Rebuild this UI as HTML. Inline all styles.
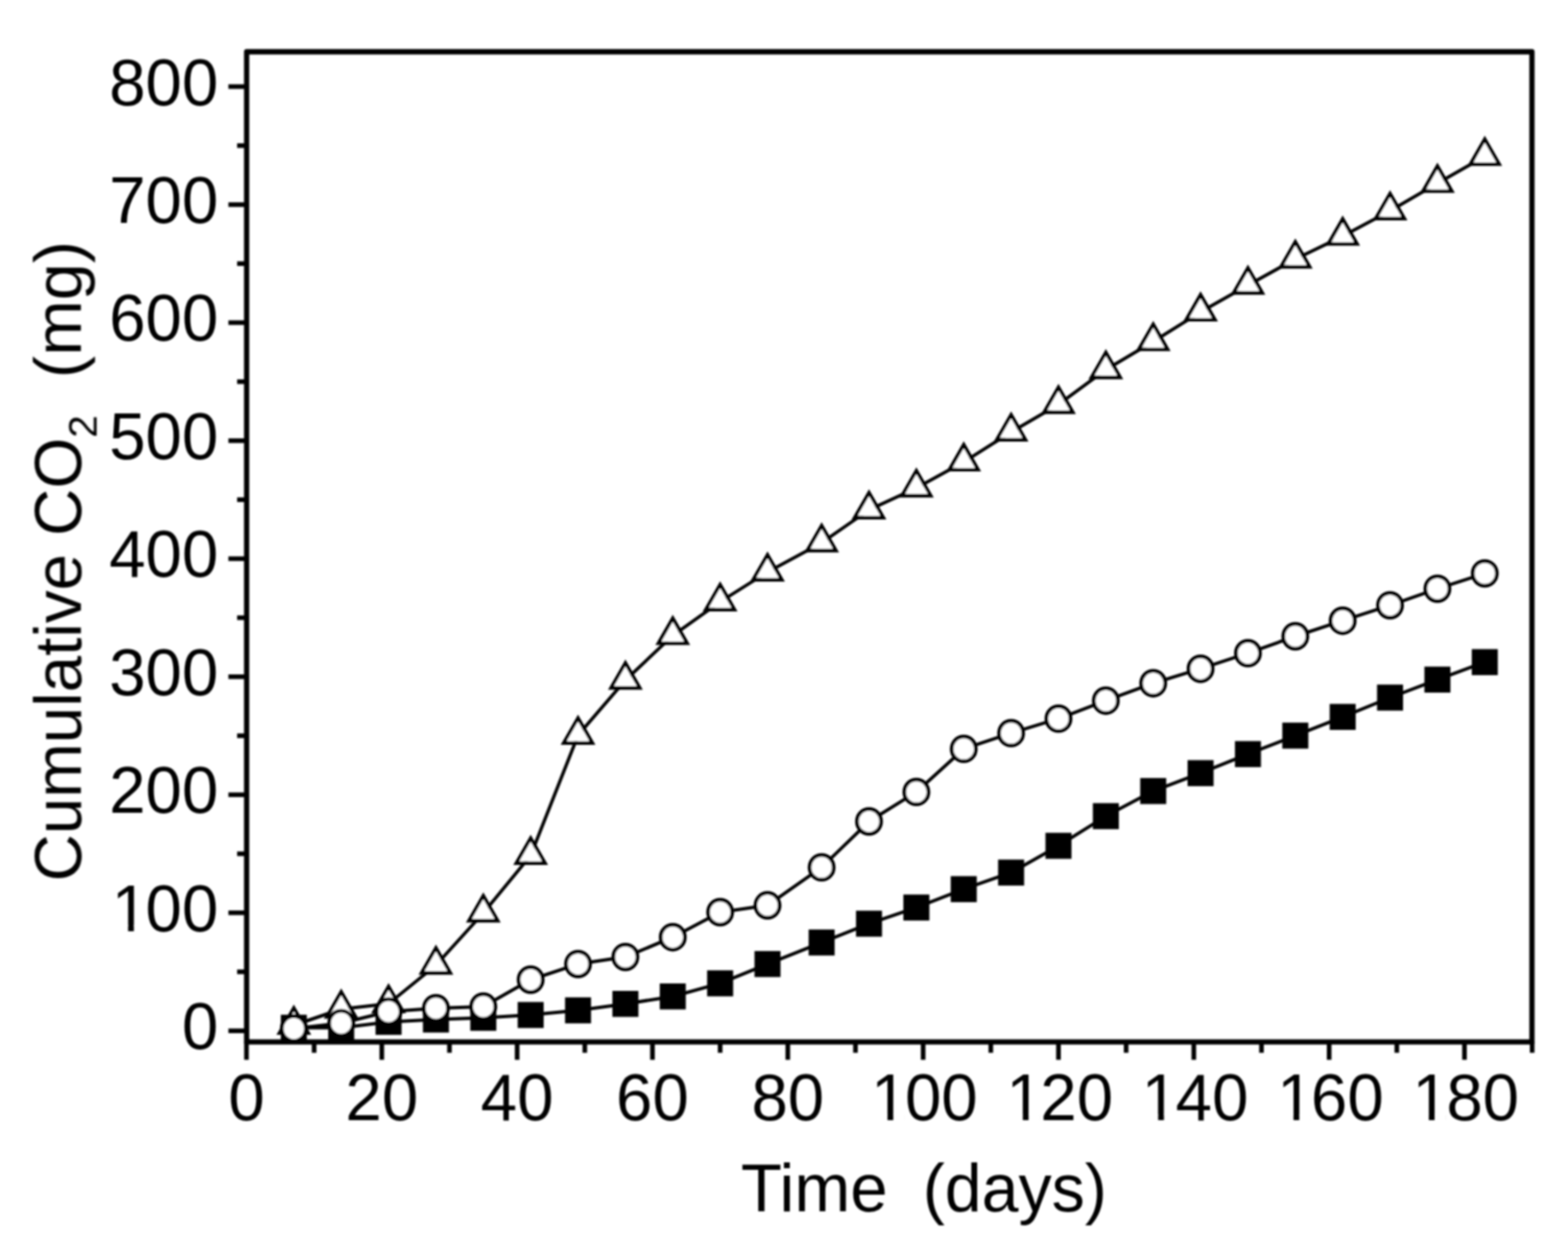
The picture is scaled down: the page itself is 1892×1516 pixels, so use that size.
<!DOCTYPE html><html><head><meta charset="utf-8"><title>Cumulative CO2</title><style>html,body{margin:0;padding:0;background:#fff;}svg{display:block;}text{font-family:"Liberation Sans",Arial,sans-serif;fill:#000;}</style></head><body>
<svg width="1892" height="1516" viewBox="0 0 1892 1516">
<rect width="1892" height="1516" fill="#fff"/>
<filter id="bl" x="0" y="0" width="1892" height="1516" filterUnits="userSpaceOnUse"><feGaussianBlur stdDeviation="0.8"/></filter><g filter="url(#bl)">
<polyline fill="none" stroke="#000" stroke-width="4" stroke-linejoin="round" points="354.55,1237.5 411.71,1218 468.86,1211.5 526.02,1165 583.17,1102 640.33,1032.5 697.48,887.4 754.64,821 811.79,767.1 868.95,726.4 926.1,690.4 991.42,655.2 1048.58,615.4 1105.73,589 1162.89,557.6 1220.04,521.5 1277.2,488.2 1334.36,446.2 1391.51,412.3 1448.66,376.6 1505.82,344.2 1562.97,312.7 1620.13,285.1 1677.28,254.5 1734.44,221.3 1791.59,188.8"/>
<path d="M354.55,1212.5 375.55,1249 333.55,1249Z M354.55,1221.32 367.95,1244.6 341.16,1244.6Z" fill="#000" fill-rule="evenodd"/><polygon points="354.55,1221.32 367.95,1244.6 341.16,1244.6" fill="#fff"/>
<path d="M411.71,1193 432.71,1229.5 390.71,1229.5Z M411.71,1201.82 425.1,1225.1 398.32,1225.1Z" fill="#000" fill-rule="evenodd"/><polygon points="411.71,1201.82 425.1,1225.1 398.32,1225.1" fill="#fff"/>
<path d="M468.86,1186.5 489.86,1223 447.86,1223Z M468.86,1195.32 482.26,1218.6 455.47,1218.6Z" fill="#000" fill-rule="evenodd"/><polygon points="468.86,1195.32 482.26,1218.6 455.47,1218.6" fill="#fff"/>
<path d="M526.02,1140 547.02,1176.5 505.02,1176.5Z M526.02,1148.82 539.41,1172.1 512.63,1172.1Z" fill="#000" fill-rule="evenodd"/><polygon points="526.02,1148.82 539.41,1172.1 512.63,1172.1" fill="#fff"/>
<path d="M583.17,1077 604.17,1113.5 562.17,1113.5Z M583.17,1085.82 596.57,1109.1 569.78,1109.1Z" fill="#000" fill-rule="evenodd"/><polygon points="583.17,1085.82 596.57,1109.1 569.78,1109.1" fill="#fff"/>
<path d="M640.33,1007.5 661.33,1044 619.33,1044Z M640.33,1016.32 653.72,1039.6 626.94,1039.6Z" fill="#000" fill-rule="evenodd"/><polygon points="640.33,1016.32 653.72,1039.6 626.94,1039.6" fill="#fff"/>
<path d="M697.48,862.4 718.48,898.9 676.48,898.9Z M697.48,871.22 710.88,894.5 684.09,894.5Z" fill="#000" fill-rule="evenodd"/><polygon points="697.48,871.22 710.88,894.5 684.09,894.5" fill="#fff"/>
<path d="M754.64,796 775.64,832.5 733.64,832.5Z M754.64,804.82 768.03,828.1 741.25,828.1Z" fill="#000" fill-rule="evenodd"/><polygon points="754.64,804.82 768.03,828.1 741.25,828.1" fill="#fff"/>
<path d="M811.79,742.1 832.79,778.6 790.79,778.6Z M811.79,750.92 825.19,774.2 798.4,774.2Z" fill="#000" fill-rule="evenodd"/><polygon points="811.79,750.92 825.19,774.2 798.4,774.2" fill="#fff"/>
<path d="M868.95,701.4 889.95,737.9 847.95,737.9Z M868.95,710.22 882.34,733.5 855.56,733.5Z" fill="#000" fill-rule="evenodd"/><polygon points="868.95,710.22 882.34,733.5 855.56,733.5" fill="#fff"/>
<path d="M926.1,665.4 947.1,701.9 905.1,701.9Z M926.1,674.22 939.5,697.5 912.71,697.5Z" fill="#000" fill-rule="evenodd"/><polygon points="926.1,674.22 939.5,697.5 912.71,697.5" fill="#fff"/>
<path d="M991.42,630.2 1012.42,666.7 970.42,666.7Z M991.42,639.02 1004.82,662.3 978.03,662.3Z" fill="#000" fill-rule="evenodd"/><polygon points="991.42,639.02 1004.82,662.3 978.03,662.3" fill="#fff"/>
<path d="M1048.58,590.4 1069.58,626.9 1027.58,626.9Z M1048.58,599.22 1061.97,622.5 1035.19,622.5Z" fill="#000" fill-rule="evenodd"/><polygon points="1048.58,599.22 1061.97,622.5 1035.19,622.5" fill="#fff"/>
<path d="M1105.73,564 1126.73,600.5 1084.73,600.5Z M1105.73,572.82 1119.13,596.1 1092.34,596.1Z" fill="#000" fill-rule="evenodd"/><polygon points="1105.73,572.82 1119.13,596.1 1092.34,596.1" fill="#fff"/>
<path d="M1162.89,532.6 1183.89,569.1 1141.89,569.1Z M1162.89,541.42 1176.28,564.7 1149.5,564.7Z" fill="#000" fill-rule="evenodd"/><polygon points="1162.89,541.42 1176.28,564.7 1149.5,564.7" fill="#fff"/>
<path d="M1220.04,496.5 1241.04,533 1199.04,533Z M1220.04,505.32 1233.44,528.6 1206.65,528.6Z" fill="#000" fill-rule="evenodd"/><polygon points="1220.04,505.32 1233.44,528.6 1206.65,528.6" fill="#fff"/>
<path d="M1277.2,463.2 1298.2,499.7 1256.2,499.7Z M1277.2,472.02 1290.59,495.3 1263.81,495.3Z" fill="#000" fill-rule="evenodd"/><polygon points="1277.2,472.02 1290.59,495.3 1263.81,495.3" fill="#fff"/>
<path d="M1334.36,421.2 1355.36,457.7 1313.36,457.7Z M1334.36,430.02 1347.75,453.3 1320.96,453.3Z" fill="#000" fill-rule="evenodd"/><polygon points="1334.36,430.02 1347.75,453.3 1320.96,453.3" fill="#fff"/>
<path d="M1391.51,387.3 1412.51,423.8 1370.51,423.8Z M1391.51,396.12 1404.9,419.4 1378.12,419.4Z" fill="#000" fill-rule="evenodd"/><polygon points="1391.51,396.12 1404.9,419.4 1378.12,419.4" fill="#fff"/>
<path d="M1448.66,351.6 1469.66,388.1 1427.66,388.1Z M1448.66,360.42 1462.06,383.7 1435.27,383.7Z" fill="#000" fill-rule="evenodd"/><polygon points="1448.66,360.42 1462.06,383.7 1435.27,383.7" fill="#fff"/>
<path d="M1505.82,319.2 1526.82,355.7 1484.82,355.7Z M1505.82,328.02 1519.21,351.3 1492.43,351.3Z" fill="#000" fill-rule="evenodd"/><polygon points="1505.82,328.02 1519.21,351.3 1492.43,351.3" fill="#fff"/>
<path d="M1562.97,287.7 1583.97,324.2 1541.97,324.2Z M1562.97,296.52 1576.37,319.8 1549.58,319.8Z" fill="#000" fill-rule="evenodd"/><polygon points="1562.97,296.52 1576.37,319.8 1549.58,319.8" fill="#fff"/>
<path d="M1620.13,260.1 1641.13,296.6 1599.13,296.6Z M1620.13,268.92 1633.52,292.2 1606.74,292.2Z" fill="#000" fill-rule="evenodd"/><polygon points="1620.13,268.92 1633.52,292.2 1606.74,292.2" fill="#fff"/>
<path d="M1677.28,229.5 1698.28,266 1656.28,266Z M1677.28,238.32 1690.68,261.6 1663.89,261.6Z" fill="#000" fill-rule="evenodd"/><polygon points="1677.28,238.32 1690.68,261.6 1663.89,261.6" fill="#fff"/>
<path d="M1734.44,196.3 1755.44,232.8 1713.44,232.8Z M1734.44,205.12 1747.83,228.4 1721.05,228.4Z" fill="#000" fill-rule="evenodd"/><polygon points="1734.44,205.12 1747.83,228.4 1721.05,228.4" fill="#fff"/>
<path d="M1791.59,163.8 1812.59,200.3 1770.59,200.3Z M1791.59,172.62 1804.99,195.9 1778.2,195.9Z" fill="#000" fill-rule="evenodd"/><polygon points="1791.59,172.62 1804.99,195.9 1778.2,195.9" fill="#fff"/>
<polyline fill="none" stroke="#000" stroke-width="4" stroke-linejoin="round" points="354.55,1240.5 411.71,1240.5 468.86,1233.4 526.02,1230.6 583.17,1228.5 640.33,1225.1 697.48,1219.5 754.64,1211.7 811.79,1202.7 868.95,1186.9 926.1,1163.6 991.42,1137.6 1048.58,1114.9 1105.73,1095.4 1162.89,1073.2 1220.04,1053.2 1277.2,1020.9 1334.36,985.1 1391.51,954.8 1448.66,933.2 1505.82,910.2 1562.97,887.9 1620.13,865.3 1677.28,842 1734.44,820.3 1791.59,799.2"/>
<rect x="338.85" y="1224.8" width="31.4" height="31.4" fill="#000"/>
<rect x="396.01" y="1224.8" width="31.4" height="31.4" fill="#000"/>
<rect x="453.16" y="1217.7" width="31.4" height="31.4" fill="#000"/>
<rect x="510.32" y="1214.9" width="31.4" height="31.4" fill="#000"/>
<rect x="567.47" y="1212.8" width="31.4" height="31.4" fill="#000"/>
<rect x="624.63" y="1209.4" width="31.4" height="31.4" fill="#000"/>
<rect x="681.78" y="1203.8" width="31.4" height="31.4" fill="#000"/>
<rect x="738.94" y="1196" width="31.4" height="31.4" fill="#000"/>
<rect x="796.09" y="1187" width="31.4" height="31.4" fill="#000"/>
<rect x="853.25" y="1171.2" width="31.4" height="31.4" fill="#000"/>
<rect x="910.4" y="1147.9" width="31.4" height="31.4" fill="#000"/>
<rect x="975.72" y="1121.9" width="31.4" height="31.4" fill="#000"/>
<rect x="1032.88" y="1099.2" width="31.4" height="31.4" fill="#000"/>
<rect x="1090.03" y="1079.7" width="31.4" height="31.4" fill="#000"/>
<rect x="1147.19" y="1057.5" width="31.4" height="31.4" fill="#000"/>
<rect x="1204.34" y="1037.5" width="31.4" height="31.4" fill="#000"/>
<rect x="1261.5" y="1005.2" width="31.4" height="31.4" fill="#000"/>
<rect x="1318.65" y="969.4" width="31.4" height="31.4" fill="#000"/>
<rect x="1375.81" y="939.1" width="31.4" height="31.4" fill="#000"/>
<rect x="1432.96" y="917.5" width="31.4" height="31.4" fill="#000"/>
<rect x="1490.12" y="894.5" width="31.4" height="31.4" fill="#000"/>
<rect x="1547.27" y="872.2" width="31.4" height="31.4" fill="#000"/>
<rect x="1604.43" y="849.6" width="31.4" height="31.4" fill="#000"/>
<rect x="1661.58" y="826.3" width="31.4" height="31.4" fill="#000"/>
<rect x="1718.74" y="804.6" width="31.4" height="31.4" fill="#000"/>
<rect x="1775.89" y="783.5" width="31.4" height="31.4" fill="#000"/>
<polyline fill="none" stroke="#000" stroke-width="4" stroke-linejoin="round" points="354.55,1241.5 411.71,1235 468.86,1221 526.02,1217 583.17,1215 640.33,1182.5 697.48,1163.6 754.64,1155.1 811.79,1131.2 868.95,1101 926.1,1092.8 991.42,1046.9 1048.58,991.5 1105.73,955.9 1162.89,903.9 1220.04,884.9 1277.2,867.4 1334.36,845.7 1391.51,824.7 1448.66,807.2 1505.82,788.4 1562.97,768 1620.13,749.2 1677.28,730.6 1734.44,710.6 1791.59,692.1"/>
<ellipse cx="354.55" cy="1241.5" rx="14.55" ry="14.95" fill="#fff" stroke="#000" stroke-width="4.5"/>
<ellipse cx="411.71" cy="1235" rx="14.55" ry="14.95" fill="#fff" stroke="#000" stroke-width="4.5"/>
<ellipse cx="468.86" cy="1221" rx="14.55" ry="14.95" fill="#fff" stroke="#000" stroke-width="4.5"/>
<ellipse cx="526.02" cy="1217" rx="14.55" ry="14.95" fill="#fff" stroke="#000" stroke-width="4.5"/>
<ellipse cx="583.17" cy="1215" rx="14.55" ry="14.95" fill="#fff" stroke="#000" stroke-width="4.5"/>
<ellipse cx="640.33" cy="1182.5" rx="14.55" ry="14.95" fill="#fff" stroke="#000" stroke-width="4.5"/>
<ellipse cx="697.48" cy="1163.6" rx="14.55" ry="14.95" fill="#fff" stroke="#000" stroke-width="4.5"/>
<ellipse cx="754.64" cy="1155.1" rx="14.55" ry="14.95" fill="#fff" stroke="#000" stroke-width="4.5"/>
<ellipse cx="811.79" cy="1131.2" rx="14.55" ry="14.95" fill="#fff" stroke="#000" stroke-width="4.5"/>
<ellipse cx="868.95" cy="1101" rx="14.55" ry="14.95" fill="#fff" stroke="#000" stroke-width="4.5"/>
<ellipse cx="926.1" cy="1092.8" rx="14.55" ry="14.95" fill="#fff" stroke="#000" stroke-width="4.5"/>
<ellipse cx="991.42" cy="1046.9" rx="14.55" ry="14.95" fill="#fff" stroke="#000" stroke-width="4.5"/>
<ellipse cx="1048.58" cy="991.5" rx="14.55" ry="14.95" fill="#fff" stroke="#000" stroke-width="4.5"/>
<ellipse cx="1105.73" cy="955.9" rx="14.55" ry="14.95" fill="#fff" stroke="#000" stroke-width="4.5"/>
<ellipse cx="1162.89" cy="903.9" rx="14.55" ry="14.95" fill="#fff" stroke="#000" stroke-width="4.5"/>
<ellipse cx="1220.04" cy="884.9" rx="14.55" ry="14.95" fill="#fff" stroke="#000" stroke-width="4.5"/>
<ellipse cx="1277.2" cy="867.4" rx="14.55" ry="14.95" fill="#fff" stroke="#000" stroke-width="4.5"/>
<ellipse cx="1334.36" cy="845.7" rx="14.55" ry="14.95" fill="#fff" stroke="#000" stroke-width="4.5"/>
<ellipse cx="1391.51" cy="824.7" rx="14.55" ry="14.95" fill="#fff" stroke="#000" stroke-width="4.5"/>
<ellipse cx="1448.66" cy="807.2" rx="14.55" ry="14.95" fill="#fff" stroke="#000" stroke-width="4.5"/>
<ellipse cx="1505.82" cy="788.4" rx="14.55" ry="14.95" fill="#fff" stroke="#000" stroke-width="4.5"/>
<ellipse cx="1562.97" cy="768" rx="14.55" ry="14.95" fill="#fff" stroke="#000" stroke-width="4.5"/>
<ellipse cx="1620.13" cy="749.2" rx="14.55" ry="14.95" fill="#fff" stroke="#000" stroke-width="4.5"/>
<ellipse cx="1677.28" cy="730.6" rx="14.55" ry="14.95" fill="#fff" stroke="#000" stroke-width="4.5"/>
<ellipse cx="1734.44" cy="710.6" rx="14.55" ry="14.95" fill="#fff" stroke="#000" stroke-width="4.5"/>
<ellipse cx="1791.59" cy="692.1" rx="14.55" ry="14.95" fill="#fff" stroke="#000" stroke-width="4.5"/>
<rect x="297.6" y="62.5" width="1550.9" height="1195.2" fill="none" stroke="#000" stroke-width="6.3" stroke-linejoin="round"/>
<line x1="297.4" y1="1257.7" x2="297.4" y2="1279.2" stroke="#000" stroke-width="5.6"/>
<line x1="379.05" y1="1257.7" x2="379.05" y2="1270.7" stroke="#000" stroke-width="5.6"/>
<line x1="460.7" y1="1257.7" x2="460.7" y2="1279.2" stroke="#000" stroke-width="5.6"/>
<line x1="542.35" y1="1257.7" x2="542.35" y2="1270.7" stroke="#000" stroke-width="5.6"/>
<line x1="624" y1="1257.7" x2="624" y2="1279.2" stroke="#000" stroke-width="5.6"/>
<line x1="705.65" y1="1257.7" x2="705.65" y2="1270.7" stroke="#000" stroke-width="5.6"/>
<line x1="787.3" y1="1257.7" x2="787.3" y2="1279.2" stroke="#000" stroke-width="5.6"/>
<line x1="868.95" y1="1257.7" x2="868.95" y2="1270.7" stroke="#000" stroke-width="5.6"/>
<line x1="950.6" y1="1257.7" x2="950.6" y2="1279.2" stroke="#000" stroke-width="5.6"/>
<line x1="1032.25" y1="1257.7" x2="1032.25" y2="1270.7" stroke="#000" stroke-width="5.6"/>
<line x1="1113.9" y1="1257.7" x2="1113.9" y2="1279.2" stroke="#000" stroke-width="5.6"/>
<line x1="1195.55" y1="1257.7" x2="1195.55" y2="1270.7" stroke="#000" stroke-width="5.6"/>
<line x1="1277.2" y1="1257.7" x2="1277.2" y2="1279.2" stroke="#000" stroke-width="5.6"/>
<line x1="1358.85" y1="1257.7" x2="1358.85" y2="1270.7" stroke="#000" stroke-width="5.6"/>
<line x1="1440.5" y1="1257.7" x2="1440.5" y2="1279.2" stroke="#000" stroke-width="5.6"/>
<line x1="1522.15" y1="1257.7" x2="1522.15" y2="1270.7" stroke="#000" stroke-width="5.6"/>
<line x1="1603.8" y1="1257.7" x2="1603.8" y2="1279.2" stroke="#000" stroke-width="5.6"/>
<line x1="1685.45" y1="1257.7" x2="1685.45" y2="1270.7" stroke="#000" stroke-width="5.6"/>
<line x1="1767.1" y1="1257.7" x2="1767.1" y2="1279.2" stroke="#000" stroke-width="5.6"/>
<line x1="1848.75" y1="1257.7" x2="1848.75" y2="1270.7" stroke="#000" stroke-width="5.6"/>
<line x1="297.6" y1="1244.2" x2="275.6" y2="1244.2" stroke="#000" stroke-width="5.6"/>
<line x1="297.6" y1="1172.97" x2="286.1" y2="1172.97" stroke="#000" stroke-width="5.6"/>
<line x1="297.6" y1="1101.74" x2="275.6" y2="1101.74" stroke="#000" stroke-width="5.6"/>
<line x1="297.6" y1="1030.51" x2="286.1" y2="1030.51" stroke="#000" stroke-width="5.6"/>
<line x1="297.6" y1="959.28" x2="275.6" y2="959.28" stroke="#000" stroke-width="5.6"/>
<line x1="297.6" y1="888.05" x2="286.1" y2="888.05" stroke="#000" stroke-width="5.6"/>
<line x1="297.6" y1="816.82" x2="275.6" y2="816.82" stroke="#000" stroke-width="5.6"/>
<line x1="297.6" y1="745.59" x2="286.1" y2="745.59" stroke="#000" stroke-width="5.6"/>
<line x1="297.6" y1="674.36" x2="275.6" y2="674.36" stroke="#000" stroke-width="5.6"/>
<line x1="297.6" y1="603.13" x2="286.1" y2="603.13" stroke="#000" stroke-width="5.6"/>
<line x1="297.6" y1="531.9" x2="275.6" y2="531.9" stroke="#000" stroke-width="5.6"/>
<line x1="297.6" y1="460.67" x2="286.1" y2="460.67" stroke="#000" stroke-width="5.6"/>
<line x1="297.6" y1="389.44" x2="275.6" y2="389.44" stroke="#000" stroke-width="5.6"/>
<line x1="297.6" y1="318.21" x2="286.1" y2="318.21" stroke="#000" stroke-width="5.6"/>
<line x1="297.6" y1="246.98" x2="275.6" y2="246.98" stroke="#000" stroke-width="5.6"/>
<line x1="297.6" y1="175.75" x2="286.1" y2="175.75" stroke="#000" stroke-width="5.6"/>
<line x1="297.6" y1="104.52" x2="275.6" y2="104.52" stroke="#000" stroke-width="5.6"/>
<defs><clipPath id="c1" clipPathUnits="userSpaceOnUse"><rect x="-10" y="-80" width="53.94" height="72.9"/><rect x="22.87" y="-7.9" width="6.98" height="10.9"/><rect x="43.64" y="-80" width="131.81" height="100"/></clipPath></defs>
<g transform="translate(275.43,1352.3) scale(1,1.015)"><text x="0" y="0" font-size="79">0</text></g>
<g transform="translate(416.76,1352.3) scale(1,1.015)"><text x="0" y="0" font-size="79">20</text></g>
<g transform="translate(580.06,1352.3) scale(1,1.015)"><text x="0" y="0" font-size="79">40</text></g>
<g transform="translate(743.36,1352.3) scale(1,1.015)"><text x="0" y="0" font-size="79">60</text></g>
<g transform="translate(906.66,1352.3) scale(1,1.015)"><text x="0" y="0" font-size="79">80</text></g>
<g transform="translate(1048,1352.3) scale(1,1.015)"><text x="0" y="0" font-size="79" clip-path="url(#c1)"><tspan dx="3">1</tspan><tspan dx="-3">00</tspan></text></g>
<g transform="translate(1211.3,1352.3) scale(1,1.015)"><text x="0" y="0" font-size="79" clip-path="url(#c1)"><tspan dx="3">1</tspan><tspan dx="-3">20</tspan></text></g>
<g transform="translate(1374.6,1352.3) scale(1,1.015)"><text x="0" y="0" font-size="79" clip-path="url(#c1)"><tspan dx="3">1</tspan><tspan dx="-3">40</tspan></text></g>
<g transform="translate(1537.9,1352.3) scale(1,1.015)"><text x="0" y="0" font-size="79" clip-path="url(#c1)"><tspan dx="3">1</tspan><tspan dx="-3">60</tspan></text></g>
<g transform="translate(1701.2,1352.3) scale(1,1.015)"><text x="0" y="0" font-size="79" clip-path="url(#c1)"><tspan dx="3">1</tspan><tspan dx="-3">80</tspan></text></g>
<g transform="translate(219.56,1266.2) scale(1,1.015)"><text x="0" y="0" font-size="79">0</text></g>
<g transform="translate(131.69,1123.74) scale(1,1.015)"><text x="0" y="0" font-size="79" clip-path="url(#c1)"><tspan dx="3">1</tspan><tspan dx="-3">00</tspan></text></g>
<g transform="translate(131.69,981.28) scale(1,1.015)"><text x="0" y="0" font-size="79">200</text></g>
<g transform="translate(131.69,838.82) scale(1,1.015)"><text x="0" y="0" font-size="79">300</text></g>
<g transform="translate(131.69,696.36) scale(1,1.015)"><text x="0" y="0" font-size="79">400</text></g>
<g transform="translate(131.69,553.9) scale(1,1.015)"><text x="0" y="0" font-size="79">500</text></g>
<g transform="translate(131.69,411.44) scale(1,1.015)"><text x="0" y="0" font-size="79">600</text></g>
<g transform="translate(131.69,268.98) scale(1,1.015)"><text x="0" y="0" font-size="79">700</text></g>
<g transform="translate(131.69,126.52) scale(1,1.015)"><text x="0" y="0" font-size="79">800</text></g>
<text x="894" y="1462.2" font-size="81" xml:space="preserve">Time  <tspan x="1113.5" textLength="222" lengthAdjust="spacingAndGlyphs">(days)</tspan></text>
<text transform="translate(97.6,1063.9) rotate(-90)" font-size="79" xml:space="preserve">Cumulative CO<tspan font-size="49" dy="19">2</tspan><tspan dy="-19" font-size="80.5">  (mg)</tspan></text>
</g>
</svg></body></html>
